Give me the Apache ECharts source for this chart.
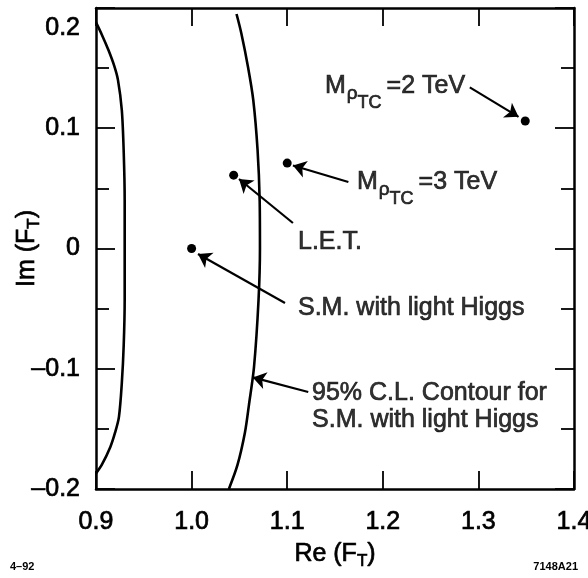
<!DOCTYPE html>
<html>
<head>
<meta charset="utf-8">
<script src="https://cdn.jsdelivr.net/npm/echarts@6/dist/echarts.min.js"></script>
<style>
  html, body { margin: 0; padding: 0; background: #fff; }
  #chart { width: 588px; height: 578px; }
</style>
</head>
<body>
<div id="chart"></div>
<script>
const FONT = '"Liberation Sans", Arial, Helvetica, sans-serif';

// Axis tick labels
const xTickLabels = { '0.9': '0.9', '1': '1.0', '1.1': '1.1', '1.2': '1.2', '1.3': '1.3', '1.4': '1.4' };
const yTickLabels = { '-0.2': '–0.2', '-0.1': '–0.1', '0': '0', '0.1': '0.1', '0.2': '0.2' };

// 95% C.L. contour for the S.M. with a light Higgs: [Re, Im]
const innerContour = [
  [0.900, 0.188], [0.906, 0.178], [0.913, 0.165], [0.919, 0.152], [0.923, 0.140],
  [0.927, 0.115], [0.929, 0.080], [0.930, 0.040], [0.930, 0.000], [0.930, -0.043],
  [0.929, -0.080], [0.927, -0.112], [0.924, -0.140], [0.920, -0.153], [0.915, -0.165],
  [0.906, -0.180], [0.900, -0.187]
];
const outerContour = [
  [1.0470, 0.195], [1.052, 0.179], [1.059, 0.151], [1.0645, 0.1235], [1.069, 0.082],
  [1.0712, 0.040], [1.0715, 0.000], [1.0700, -0.043], [1.0653, -0.0985], [1.0600, -0.130],
  [1.0558, -0.153], [1.048, -0.180], [1.039, -0.200]
];

// Model predictions
const modelRe = [1.349, 1.100, 1.044, 1.000];
const modelIm = [0.106, 0.071, 0.061, 0.000];

// Annotation arrows, tail -> head, in data units
const arrowTail = [[1.291, 0.134], [1.164, 0.0553], [1.106, 0.0212], [1.0977, -0.0453], [1.122, -0.1193]];
const arrowHead = [[1.342, 0.1095], [1.106, 0.0690], [1.0496, 0.0578], [1.0067, -0.0046], [1.064, -0.1072]];

// Annotation texts and their left-middle anchors in data units
const noteText = [
  '{m|M}{rho|ρ}{tc|TC}{m|=2 TeV}',
  '{m|M}{rho|ρ}{tc|TC}{m|=3 TeV}',
  '{t|L.E.T.}',
  '{t|S.M. with light Higgs}',
  '{t|95% C.L. Contour for}\n{t|S.M. with light Higgs}'
];
const noteRe = [1.1395, 1.1730, 1.1113, 1.1113, 1.1260];
const noteIm = [0.1350, 0.0553, 0.0054, -0.0495, -0.1313];

// Slight outline in the text colour gives the heavier print weight
const ink = { color: '#000', textBorderColor: '#000', textBorderWidth: 0.7 };

const noteRich = {
  m: Object.assign({ fontFamily: FONT, fontSize: 25, lineHeight: 26 }, ink),
  rho: Object.assign({ fontFamily: FONT, fontSize: 19, lineHeight: 20, padding: [16, 0, 0, 1] }, ink),
  tc: Object.assign({ fontFamily: FONT, fontSize: 18, lineHeight: 18, padding: [34, 5, 0, 0] }, ink),
  t: Object.assign({ fontFamily: FONT, fontSize: 25, lineHeight: 27 }, ink)
};

const tickFmt = (map) => (v) => map[String(Math.round(v * 10) / 10)] ?? '';

const axisLineStyle = { color: '#000', width: 2.5 };
const nameRich = {
  n: Object.assign({ fontFamily: FONT, fontSize: 25, lineHeight: 26 }, ink),
  s: Object.assign({ fontFamily: FONT, fontSize: 17, lineHeight: 18, padding: [14, 0, 0, 0] }, ink)
};

function valueAxisBase(extra) {
  return Object.assign({
    type: 'value',
    interval: 0.1,
    nameMoveOverlap: false,
    axisLine: { show: true, onZero: false, lineStyle: axisLineStyle },
    axisTick: { show: true, inside: true, length: 19, lineStyle: { color: '#000', width: 1.8 } },
    splitLine: { show: false }
  }, extra);
}

const chart = echarts.init(document.getElementById('chart'), null, { renderer: 'canvas' });

chart.setOption({
  animation: false,
  backgroundColor: '#fff',
  grid: { left: 96, right: 14, top: 8, bottom: 89, containLabel: false, outerBoundsMode: 'none' },
  xAxis: [
    valueAxisBase({
      min: 0.9, max: 1.4, position: 'bottom',
      axisTick: { show: true, inside: true, length: 18, lineStyle: { color: '#000', width: 1.8 } },
      axisLabel: Object.assign({
        show: true, margin: 21, fontFamily: FONT, fontSize: 25,
        formatter: tickFmt(xTickLabels)
      }, ink),
      name: '{n|Re (F}{s|T}{n|)}',
      nameLocation: 'middle',
      nameGap: 52,
      nameTextStyle: { color: '#000', rich: nameRich }
    }),
    valueAxisBase({
      min: 0.9, max: 1.4, position: 'top',
      axisTick: { show: true, inside: true, length: 18, lineStyle: { color: '#000', width: 1.8 } },
      axisLabel: { show: false }
    })
  ],
  yAxis: [
    valueAxisBase({
      min: -0.2, max: 0.2, position: 'left',
      minorTick: { show: true, splitNumber: 2, length: 13, lineStyle: { color: '#000', width: 1.8 } },
      axisLabel: Object.assign({
        show: true, margin: 16, fontFamily: FONT, fontSize: 25,
        formatter: (v) => {
          const s = tickFmt(yTickLabels)(v);
          return Math.abs(v - 0.2) < 1e-6 ? '{top|' + s + '}' : s;
        },
        rich: { top: Object.assign({ fontFamily: FONT, fontSize: 25, padding: [40, 0, 0, 0] }, ink) }
      }, ink),
      name: '{n|Im (F}{s|T}{n|)}',
      nameLocation: 'middle',
      nameGap: 56,
      nameTextStyle: { color: '#000', rich: nameRich }
    }),
    valueAxisBase({
      min: -0.2, max: 0.2, position: 'right',
      minorTick: { show: true, splitNumber: 2, length: 13, lineStyle: { color: '#000', width: 1.8 } },
      axisLabel: { show: false }
    })
  ],
  series: [
    {
      type: 'line', data: innerContour, smooth: 0.3,
      symbol: 'none', lineStyle: { color: '#000', width: 2.6 }, z: 3
    },
    {
      type: 'line', data: outerContour, smooth: 0.3,
      symbol: 'none', lineStyle: { color: '#000', width: 2.6 }, z: 3
    },
    {
      type: 'lines', coordinateSystem: 'cartesian2d',
      data: arrowTail.map((t, i) => ({ coords: [t, arrowHead[i]] })),
      symbol: ['none', 'arrow'], symbolSize: [0, 13],
      lineStyle: { color: '#000', width: 2.2, opacity: 1 }, z: 4
    },
    {
      type: 'scatter',
      data: modelRe.map((x, i) => [x, modelIm[i]]),
      symbol: 'circle', symbolSize: 9,
      itemStyle: { color: '#000', opacity: 1 }, z: 5
    },
    {
      type: 'scatter',
      data: noteRe.map((x, i) => ({ value: [x, noteIm[i]], label: { formatter: noteText[i] } })),
      symbolSize: 0, silent: true,
      label: Object.assign({
        show: true, position: [0, 0], align: 'left', verticalAlign: 'middle',
        rich: noteRich
      }, ink), z: 6
    }
  ],
  graphic: [
    { type: 'text', left: 10, top: 561,
      style: { text: '4–92', fontFamily: FONT, fontSize: 11, fontWeight: 'bold', fill: '#000' } },
    { type: 'text', right: 10, top: 561,
      style: { text: '7148A21', fontFamily: FONT, fontSize: 11, fontWeight: 'bold', fill: '#000' } }
  ]
});
</script>
</body>
</html>
